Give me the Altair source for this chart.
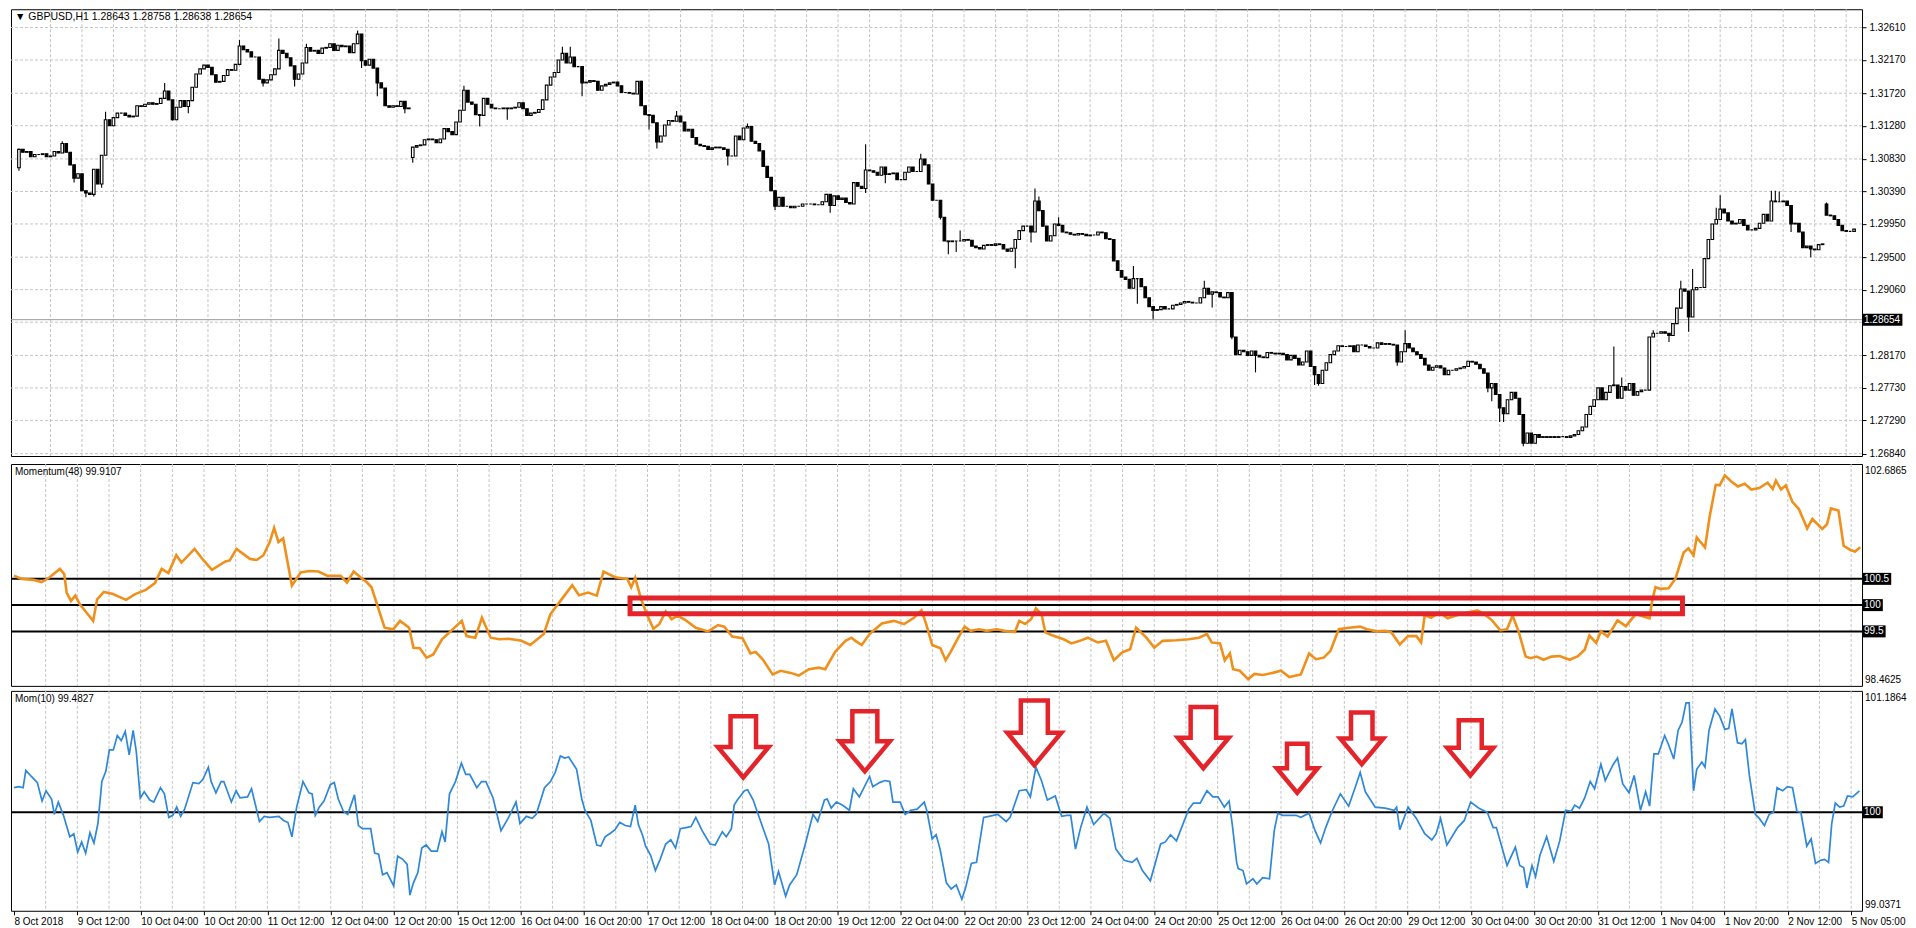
import json
import altair as alt
import pandas as pd

# ---------------- data ----------------
# GBPUSD H1 closes, one per bar (bar 0 = 8 Oct 20:00)
closes = [
    1.3096, 1.3092, 1.3093, 1.3086, 1.3089, 1.3089, 1.3090, 1.3086, 1.3087, 1.3093,
    1.3091, 1.3104, 1.3092, 1.3075, 1.3057, 1.3063, 1.3040, 1.3037, 1.3035, 1.3069,
    1.3049, 1.3088, 1.3136, 1.3128, 1.3139, 1.3145, 1.3145, 1.3142, 1.3140, 1.3141,
    1.3155, 1.3154, 1.3157, 1.3159, 1.3157, 1.3158, 1.3165, 1.3175, 1.3163, 1.3136,
    1.3153, 1.3162, 1.3154, 1.3162, 1.3180, 1.3198, 1.3205, 1.3210, 1.3207, 1.3197,
    1.3187, 1.3188, 1.3196, 1.3204, 1.3203, 1.3211, 1.3236, 1.3231, 1.3228, 1.3221,
    1.3221, 1.3191, 1.3186, 1.3190, 1.3197, 1.3205, 1.3230, 1.3226, 1.3220, 1.3209,
    1.3191, 1.3198, 1.3213, 1.3234, 1.3229, 1.3230, 1.3226, 1.3233, 1.3234, 1.3239,
    1.3230, 1.3237, 1.3235, 1.3236, 1.3227, 1.3239, 1.3252, 1.3216, 1.3210, 1.3218,
    1.3206, 1.3186, 1.3179, 1.3155, 1.3153, 1.3155, 1.3154, 1.3161, 1.3151, 1.3152,
    1.3099, 1.3101, 1.3102, 1.3109, 1.3110, 1.3109, 1.3105, 1.3110, 1.3124, 1.3120,
    1.3116, 1.3133, 1.3149, 1.3176, 1.3160, 1.3157, 1.3143, 1.3142, 1.3165, 1.3157,
    1.3152, 1.3151, 1.3151, 1.3152, 1.3151, 1.3152, 1.3153, 1.3159, 1.3151, 1.3142,
    1.3145, 1.3146, 1.3150, 1.3163, 1.3183, 1.3194, 1.3200, 1.3217, 1.3226, 1.3213,
    1.3221, 1.3208, 1.3208, 1.3186, 1.3187, 1.3189, 1.3188, 1.3176, 1.3182, 1.3184,
    1.3186, 1.3187, 1.3182, 1.3173, 1.3173, 1.3172, 1.3171, 1.3188, 1.3155, 1.3143,
    1.3142, 1.3132, 1.3106, 1.3114, 1.3129, 1.3135, 1.3134, 1.3141, 1.3133, 1.3121,
    1.3123, 1.3112, 1.3103, 1.3101, 1.3100, 1.3096, 1.3098, 1.3099, 1.3098, 1.3096,
    1.3087, 1.3087, 1.3114, 1.3109, 1.3125, 1.3127, 1.3107, 1.3104, 1.3094, 1.3073,
    1.3058, 1.3040, 1.3019, 1.3031, 1.3019, 1.3019, 1.3017, 1.3019, 1.3019, 1.3022,
    1.3022, 1.3022, 1.3021, 1.3021, 1.3025, 1.3035, 1.3020, 1.3033, 1.3028, 1.3030,
    1.3024, 1.3022, 1.3051, 1.3046, 1.3043, 1.3068, 1.3067, 1.3065, 1.3061, 1.3072,
    1.3062, 1.3063, 1.3064, 1.3055, 1.3055, 1.3065, 1.3072, 1.3066, 1.3066, 1.3083,
    1.3075, 1.3049, 1.3027, 1.3027, 1.3004, 1.2972, 1.2971, 1.2972, 1.2972, 1.2972,
    1.2974, 1.2973, 1.2965, 1.2963, 1.2961, 1.2966, 1.2967, 1.2966, 1.2968, 1.2967,
    1.2961, 1.2958, 1.2962, 1.2974, 1.2986, 1.2992, 1.2992, 1.2984, 1.3026, 1.3013,
    1.2992, 1.2972, 1.2979, 1.2995, 1.2993, 1.2984, 1.2983, 1.2981, 1.2980, 1.2982,
    1.2981, 1.2979, 1.2980, 1.2980, 1.2984, 1.2983, 1.2975, 1.2974, 1.2945, 1.2932,
    1.2923, 1.2920, 1.2908, 1.2921, 1.2921, 1.2910, 1.2895, 1.2883, 1.2878, 1.2879,
    1.2883, 1.2880, 1.2880, 1.2885, 1.2886, 1.2888, 1.2890, 1.2889, 1.2888, 1.2888,
    1.2895, 1.2908, 1.2900, 1.2903, 1.2902, 1.2896, 1.2895, 1.2902, 1.2842, 1.2818,
    1.2824, 1.2822, 1.2817, 1.2823, 1.2817, 1.2815, 1.2814, 1.2821, 1.2820, 1.2819,
    1.2820, 1.2818, 1.2811, 1.2817, 1.2813, 1.2804, 1.2808, 1.2823, 1.2802, 1.2791,
    1.2779, 1.2797, 1.2807, 1.2818, 1.2823, 1.2830, 1.2829, 1.2829, 1.2830, 1.2822,
    1.2831, 1.2831, 1.2829, 1.2827, 1.2827, 1.2834, 1.2832, 1.2833, 1.2832, 1.2831,
    1.2808, 1.2822, 1.2833, 1.2827, 1.2822, 1.2818, 1.2813, 1.2804, 1.2797, 1.2801,
    1.2803, 1.2800, 1.2791, 1.2797, 1.2797, 1.2799, 1.2800, 1.2802, 1.2809, 1.2808,
    1.2805, 1.2799, 1.2793, 1.2773, 1.2779, 1.2764, 1.2746, 1.2738, 1.2757, 1.2767,
    1.2759, 1.2737, 1.2698, 1.2712, 1.2698, 1.2710, 1.2706, 1.2707, 1.2706, 1.2707,
    1.2706, 1.2707, 1.2707, 1.2706, 1.2708, 1.2710, 1.2715, 1.2720, 1.2737, 1.2748,
    1.2757, 1.2773, 1.2757, 1.2767, 1.2776, 1.2777, 1.2759, 1.2775, 1.2770, 1.2779,
    1.2763, 1.2768, 1.2770, 1.2770, 1.2842, 1.2847, 1.2847, 1.2849, 1.2847, 1.2844,
    1.2860, 1.2881, 1.2907, 1.2904, 1.2869, 1.2906, 1.2909, 1.2909, 1.2948, 1.2974,
    1.2995, 1.3001, 1.3015, 1.3010, 1.2999, 1.2995, 1.2996, 1.3001, 1.2993, 1.2987,
    1.2987, 1.2989, 1.2996, 1.3008, 1.2999, 1.3026, 1.3025, 1.3025, 1.3026, 1.3020,
    1.2995, 1.2996, 1.2984, 1.2963, 1.2965, 1.2961, 1.2960, 1.2967, 1.2968, 1.3007,
    1.3006, 1.3001, 1.2993, 1.2986, 1.2985, 1.2985, 1.2988,
]
# opens after a gap (otherwise open = previous close)
gap_opens = {0: 1.3071, 100: 1.3085, 459: 1.3022}
# visible wicks: bar -> (high, low)
wicks = {
    0: (1.3097, 1.3067), 11: (1.3107, None), 14: (None, 1.3051), 17: (None, 1.3031),
    19: (None, 1.3032), 21: (None, 1.3044), 22: (1.3147, None), 37: (1.3186, None),
    39: (None, 1.3135), 43: (None, 1.3145), 56: (1.3244, None), 62: (None, 1.3181),
    66: (1.3246, None), 70: (None, 1.3181), 73: (1.3239, None), 86: (1.3257, None),
    87: (None, 1.3206), 91: (None, 1.3168), 98: (None, 1.3145), 100: (None, 1.3078),
    113: (1.3182, None), 117: (None, 1.3127), 124: (None, 1.3136), 138: (1.3235, None),
    140: (1.3235, None), 143: (None, 1.3168), 158: (1.3189, None), 160: (None, 1.3123),
    162: (None, 1.3097), 167: (1.3148, None), 180: (None, 1.3074), 185: (1.3131, None),
    192: (None, 1.3014), 206: (None, 1.3010), 215: (1.3103, 1.3037), 220: (None, 1.3050),
    229: (1.3090, None), 234: (None, 1.3001), 236: (None, 1.2954), 238: (None, 1.2957),
    239: (1.2986, None), 253: (None, 1.2935), 257: (None, 1.2970), 258: (1.3043, None),
    259: (1.3032, None), 264: (1.3004, None), 283: (1.2938, None), 284: (None, 1.2887),
    288: (None, 1.2866), 301: (1.2918, None), 303: (None, 1.2882), 308: (None, 1.2839),
    314: (None, 1.2794), 329: (None, 1.2777), 330: (None, 1.2776), 350: (None, 1.2803),
    352: (1.2851, None), 373: (None, 1.2767), 374: (None, 1.2755), 376: (None, 1.2727),
    377: (None, 1.2727), 382: (None, 1.2694), 405: (1.2829, None), 407: (1.2787, None),
    415: (1.2851, None), 419: (None, 1.2835), 422: (1.2918, None), 424: (None, 1.2849),
    425: (1.2934, None), 431: (1.3017, None), 432: (1.3034, None), 445: (1.3040, None),
    446: (1.3040, None), 447: (1.3039, None), 450: (None, 1.2984), 455: (None, 1.2950),
    459: (1.3024, None),
}
price_ticks = [1.32610, 1.32170, 1.31720, 1.31280, 1.30830, 1.30390, 1.29950,
               1.29500, 1.29060, 1.28620, 1.28170, 1.27730, 1.27290, 1.26840]
price_domain = [1.26808, 1.32857]
bid = 1.28654
header = "\u25BC GBPUSD,H1  1.28643 1.28758 1.28638 1.28654"

# Momentum(48)
m48_bar = [0, 2, 5, 7, 9, 11.6, 12.7, 13.3, 14.4, 15.5, 16.6, 18.3, 20, 21, 22.7, 25, 28.3, 30.6, 33.3, 35.6,
           37.3, 39, 41, 42.3, 45.6, 47.9, 50, 53.4, 54.5, 56.2, 59.6, 61.3, 63, 64.6, 65.7, 66.8, 68, 70.2,
           72.4, 74.6, 76.9, 79.1, 82.5, 84.1, 85.8, 87.5, 89.2, 90.3, 93.6, 95.8, 97.5, 99.8, 100.9, 102.5,
           104.2, 105.9, 108.1, 110.4, 113.1, 114.3, 116.5, 118.2, 120.4, 122.6, 124.9, 128.2, 130.4, 133.8,
           135.5, 138.3, 141, 142.7, 145, 147.2, 148.9, 151.8, 154.9, 155.9, 156.9, 158.4, 160, 161.5, 163,
           164.6, 166.1, 167.6, 169.7, 172.2, 175.3, 177.8, 179.4, 181.4, 184, 186, 187.3, 189.1, 191.6, 193.6,
           196.2, 198.2, 200.8, 203.3, 204.9, 207.4, 210, 211.5, 212.5, 214.1, 216.1, 219.2, 222.2, 224.8,
           227.3, 229.2, 230.4, 231.9, 234, 235.3, 236.5, 238.5, 240.1, 241.6, 243.7, 245.7, 248.2, 250.8,
           252.8, 253.9, 255.4, 256.9, 258.1, 259.5, 260.5, 262, 265.1, 267.1, 269.2, 271.2, 273.7, 275.8,
           277.8, 279.9, 281.9, 283.4, 286, 288, 290.1, 293.6, 296.7, 299.3, 301.3, 302.5, 304.6, 305.8, 307.1,
           307.9, 309.6, 311.7, 313.3, 315.4, 317.9, 320, 322.1, 325, 327.1, 328.8, 330.8, 332.5, 334.6, 337.1,
           340, 341.7, 344.2, 346.3, 347.9, 350, 352.1, 354.2, 355.4, 356.3, 357.9, 360, 362.1, 364.6, 367.1,
           369.6, 371.3, 373.3, 375.4, 377.1, 378.5, 380, 381.8, 383, 384.6, 386.3, 388.3, 390.4, 392.9, 395,
           396.7, 397.9, 399.6, 400.8, 402.5, 405, 407.1, 409.6, 411.7, 413.1, 413.8, 414.6, 415.8, 417.9,
           419.6, 421.7, 422.9, 424.2, 425, 427.1, 428.3, 429.8, 430.8, 432.1, 433.8, 435.4, 437.1, 438.8,
           440.8, 442.9, 444.2, 445, 446.3, 447.5, 449.2, 450.8, 452.9, 454.2, 456.7, 457.9, 458.9, 460.8,
           462.1, 463.8, 465, 466.3]
m48_val = [100.56, 100.50, 100.48, 100.44, 100.53, 100.69, 100.59, 100.24, 100.08, 100.18, 100.02, 99.86, 99.70,
           100.11, 100.25, 100.21, 100.10, 100.21, 100.29, 100.42, 100.69, 100.61, 100.95, 100.81, 101.07, 100.85,
           100.67, 100.83, 100.85, 101.07, 100.88, 100.86, 100.95, 101.20, 101.47, 101.20, 101.27, 100.37, 100.62,
           100.65, 100.64, 100.56, 100.56, 100.43, 100.64, 100.53, 100.43, 100.34, 99.57, 99.54, 99.70, 99.57,
           99.19, 99.18, 99.00, 99.06, 99.35, 99.51, 99.70, 99.41, 99.38, 99.76, 99.38, 99.35, 99.36, 99.32,
           99.24, 99.45, 99.83, 100.11, 100.38, 100.19, 100.24, 100.18, 100.64, 100.53, 100.50, 100.34, 100.52,
           100.11, 99.80, 99.55, 99.64, 99.88, 99.73, 99.80, 99.71, 99.57, 99.50, 99.62, 99.59, 99.40, 99.37,
           99.08, 99.11, 98.97, 98.68, 98.75, 98.71, 98.66, 98.78, 98.81, 98.78, 99.11, 99.32, 99.38, 99.32,
           99.24, 99.45, 99.65, 99.70, 99.64, 99.76, 99.90, 99.64, 99.24, 99.18, 98.95, 99.10, 99.38, 99.59,
           99.51, 99.54, 99.51, 99.54, 99.50, 99.49, 99.70, 99.64, 99.73, 99.94, 99.83, 99.48, 99.43, 99.35,
           99.27, 99.32, 99.38, 99.29, 99.32, 98.95, 99.10, 99.16, 99.57, 99.38, 99.19, 99.32, 99.33, 99.35,
           99.38, 99.45, 99.29, 99.27, 98.95, 99.08, 98.78, 98.75, 98.59, 98.69, 98.67, 98.71, 98.75, 98.63,
           98.68, 99.08, 98.97, 99.00, 99.13, 99.54, 99.57, 99.59, 99.54, 99.50, 99.51, 99.48, 99.25, 99.41,
           99.41, 99.29, 99.81, 99.76, 99.86, 99.75, 99.81, 99.86, 99.90, 99.83, 99.71, 99.52, 99.54, 99.80,
           99.50, 99.02, 98.99, 99.02, 98.96, 99.02, 99.03, 98.96, 99.03, 99.15, 99.42, 99.28, 99.50, 99.40,
           99.71, 99.60, 99.83, 99.78, 99.75, 100.11, 100.34, 100.31, 100.32, 100.50, 101.00, 101.08, 100.95,
           101.29, 101.10, 101.70, 102.29, 102.28, 102.47, 102.35, 102.26, 102.31, 102.20, 102.23, 102.33,
           102.21, 102.37, 102.20, 102.28, 101.96, 101.83, 101.46, 101.64, 101.45, 101.54, 101.84, 101.80,
           101.13, 101.05, 101.02, 101.10]
m48_levels = [100.5, 100.0, 99.5]
m48_range = [98.4625, 102.6865]
m48_title = "Momentum(48) 99.9107"
box_bars = [155.6, 421.4]
box_vals = [99.835, 100.135]

# Mom(10)
m10_bar = [0, 1.3, 2.3, 3, 4.4, 5.9, 7.1, 8.1, 9.5, 10.2, 11.2, 12.5, 14.1, 15.1, 16.1, 17.1, 18.1, 19.2, 20.2,
           21.2, 22.2, 23.2, 24.1, 25.1, 26.1, 27.1, 28.1, 29.1, 30.1, 30.9, 31.9, 32.9, 34.3, 35.3, 37, 38, 39.1,
           40.1, 41.1, 42.1, 43.1, 45.2, 46.7, 47.7, 49.1, 49.8, 51, 52.3, 53, 54.9, 56.1, 57.1, 59, 60, 62, 63.2,
           64.6, 66.9, 68.1, 69.2, 70.2, 71.4, 73, 74.5, 75.3, 76.1, 77.1, 78.3, 79.9, 80.9, 81.9, 83.2, 84.3, 86,
           87, 88, 90.1, 91.1, 92.1, 93.1, 94.2, 95.9, 96.9, 98.2, 99.3, 100, 100.8, 102, 103, 104.1, 105.4, 106.9,
           108.1, 108.9, 110, 111.5, 113, 114.1, 115.1, 116.9, 118.1, 119.2, 121, 123, 124.8, 126.8, 127.8, 129.4,
           130.9, 131.9, 134, 135.5, 136.7, 138, 139.1, 140.1, 142.1, 143.4, 144.2, 145.7, 147.2, 148.2, 149.3,
           150.8, 151.8, 153, 154.4, 155.7, 156.9, 157.7, 158.8, 159.5, 160.8, 162, 163.2, 164.6, 165.9, 167.1,
           168.3, 169.7, 171, 172.2, 173.8, 175.8, 177.1, 178.9, 179.9, 181.2, 181.9, 182.7, 184.5, 185.3, 186.7,
           188.5, 190.6, 192.1, 193.1, 194.9, 195.9, 197.7, 199.8, 201.8, 203, 204.7, 205.4, 206.4, 207.7, 209.2,
           211, 212, 213.5, 216.1, 216.9, 218.6, 220, 221.2, 222, 223.8, 225.1, 226.5, 228.1, 229.9, 230.6, 231.9,
           232.9, 233.9, 235.5, 236.7, 238, 239.4, 240.4, 241.8, 243.1, 244.9, 246.2, 248.5, 250.6, 251.6, 253.9,
           255.7, 256.7, 258.1, 259.5, 261, 263, 264.6, 265.9, 266.9, 268.1, 269.4, 271, 272.7, 275.3, 276.8,
           278.3, 280.4, 282.4, 283.6, 285, 287, 289.6, 290.8, 292.1, 293.6, 296.7, 297.9, 299.6, 301.3, 302.8,
           304.1, 305.7, 306.9, 307.7, 308.8, 309.2, 310.4, 311.3, 312.9, 313.9, 315.4, 317.1, 318.3, 319.2, 320.4,
           322.1, 323.8, 325, 327.1, 328.6, 330, 331.3, 332.9, 335, 337.1, 338.8, 340, 341.3, 343.8, 346.3, 348.6,
           349.2, 350, 352.1, 354.2, 356.3, 358.1, 359.2, 360.3, 361.9, 364.6, 366.3, 367.9, 370, 372.1, 373.6,
           374.4, 377.1, 379.2, 380.3, 381.3, 382.1, 383.4, 384.3, 385.4, 387.1, 388.9, 390.4, 391.9, 393.3, 394.2,
           395.4, 396.7, 398.1, 399.2, 400.8, 401.9, 403.8, 405, 406.3, 407.9, 409.2, 410.8, 412.1, 413.1, 414.2,
           415.3, 416.9, 417.9, 419.2, 420.3, 421.3, 422.3, 423.1, 424.2, 425, 426.3, 427.1, 428.1, 429.6, 430.8,
           432.1, 433.1, 433.9, 435.3, 436.4, 437.3, 438.3, 439.8, 440.8, 442.1, 443.3, 444.4, 445.3, 446.7, 447.9,
           449.2, 450.3, 451.3, 452.8, 453.9, 455, 456.3, 457.3, 458.3, 459.1, 460, 461.1, 462.1, 463.1, 464.4,
           466.1]
m10_val = [100.24, 100.25, 100.24, 100.41, 100.35, 100.29, 100.11, 100.21, 100.13, 99.98, 100.10, 99.97, 99.76,
           99.79, 99.61, 99.71, 99.60, 99.80, 99.70, 99.89, 100.30, 100.40, 100.61, 100.61, 100.75, 100.70, 100.79,
           100.56, 100.80, 100.59, 100.14, 100.20, 100.12, 100.10, 100.24, 100.18, 99.95, 99.97, 100.05, 99.96,
           100.03, 100.29, 100.28, 100.32, 100.44, 100.30, 100.19, 100.30, 100.30, 100.10, 100.21, 100.14, 100.15,
           100.23, 99.91, 99.96, 99.95, 99.96, 99.92, 99.90, 99.76, 100.05, 100.30, 100.19, 100.18, 99.97, 100.05,
           100.11, 100.27, 100.29, 100.13, 100.01, 99.98, 100.17, 99.87, 99.84, 99.84, 99.60, 99.59, 99.39, 99.41,
           99.28, 99.57, 99.54, 99.49, 99.19, 99.30, 99.41, 99.65, 99.68, 99.62, 99.62, 99.81, 99.71, 100.18,
           100.30, 100.48, 100.37, 100.37, 100.24, 100.30, 100.30, 100.14, 99.82, 99.94, 100.10, 99.89, 99.96,
           99.94, 99.98, 100.24, 100.30, 100.39, 100.55, 100.53, 100.54, 100.42, 100.13, 100.02, 99.92, 99.68,
           99.67, 99.76, 99.80, 99.83, 99.90, 99.87, 99.86, 100.07, 99.88, 99.77, 99.67, 99.58, 99.43, 99.54,
           99.69, 99.73, 99.65, 99.84, 99.85, 99.86, 99.95, 99.82, 99.69, 99.68, 99.81, 99.76, 99.84, 100.07,
           100.12, 100.21, 100.22, 100.12, 99.92, 99.69, 99.29, 99.42, 99.18, 99.29, 99.39, 99.68, 99.98, 99.91,
           100.12, 100.13, 100.04, 100.10, 100.07, 100.02, 100.23, 100.15, 100.35, 100.25, 100.29, 100.31, 100.30,
           100.10, 100.10, 99.98, 100.02, 100.03, 100.10, 100.01, 99.74, 99.78, 99.64, 99.31, 99.25, 99.29, 99.15,
           99.27, 99.50, 99.51, 99.95, 99.96, 99.98, 99.91, 99.95, 100.21, 100.22, 100.15, 100.44, 100.31, 100.12,
           100.16, 99.96, 99.97, 99.97, 99.64, 99.85, 100.05, 99.88, 99.99, 99.94, 99.64, 99.53, 99.51, 99.55,
           99.43, 99.33, 99.69, 99.71, 99.78, 99.72, 100.03, 100.09, 100.09, 100.21, 100.15, 100.15, 100.05,
           100.11, 99.88, 99.51, 99.45, 99.43, 99.30, 99.35, 99.30, 99.36, 99.35, 99.82, 99.99, 99.97, 99.97,
           99.97, 99.95, 99.99, 99.82, 99.70, 99.85, 100.01, 100.18, 100.06, 100.25, 100.39, 100.20, 100.05,
           100.04, 100.02, 100.05, 99.83, 100.05, 99.94, 99.79, 99.73, 99.79, 99.94, 99.68, 99.85, 99.92, 100.10,
           100.04, 100.00, 99.85, 99.85, 99.48, 99.66, 99.48, 99.46, 99.26, 99.48, 99.37, 99.58, 99.76, 99.52,
           99.72, 100.02, 100.01, 100.07, 100.04, 100.14, 100.30, 100.23, 100.47, 100.31, 100.46, 100.53, 100.28,
           100.19, 100.36, 100.02, 100.20, 100.06, 100.57, 100.57, 100.75, 100.66, 100.52, 100.80, 100.88, 101.07,
           101.07, 100.21, 100.42, 100.49, 100.44, 100.80, 101.01, 100.94, 100.81, 100.82, 101.01, 100.68, 100.67,
           100.71, 100.36, 99.98, 99.94, 99.87, 99.98, 100.00, 100.24, 100.21, 100.25, 100.24, 100.01, 100.00,
           99.67, 99.74, 99.50, 99.53, 99.54, 99.51, 99.89, 100.09, 100.05, 100.06, 100.16, 100.15, 100.21]
m10_level = 100.0
m10_range = [99.0371, 101.1864]
m10_title = "Mom(10) 99.4827"
arrow_bar = [184.2, 214.9, 257.7, 300.4, 324.1, 340.4, 367.8]
arrow_val = [100.34, 100.40, 100.46, 100.43, 100.19, 100.47, 100.36]
arrow_width = [51, 50, 54, 51, 41, 43, 46]

x_labels = ["8 Oct 2018", "9 Oct 12:00", "10 Oct 04:00", "10 Oct 20:00", "11 Oct 12:00", "12 Oct 04:00",
            "12 Oct 20:00", "15 Oct 12:00", "16 Oct 04:00", "16 Oct 20:00", "17 Oct 12:00", "18 Oct 04:00",
            "18 Oct 20:00", "19 Oct 12:00", "22 Oct 04:00", "22 Oct 20:00", "23 Oct 12:00", "24 Oct 04:00",
            "24 Oct 20:00", "25 Oct 12:00", "26 Oct 04:00", "26 Oct 20:00", "29 Oct 12:00", "30 Oct 04:00",
            "30 Oct 20:00", "31 Oct 12:00", "1 Nov 04:00", "1 Nov 20:00", "2 Nov 12:00", "5 Nov 05:00"]
LABEL_STEP = 16
GRID_STEP = 8

# ---------------- styling ----------------
W = 1852
H_PRICE, H_M48, H_M10 = 447, 222, 220
FONT = "Liberation Sans"
FS = 10
GRID = "#c4c4c4"
ORANGE = "#f0901c"
BLUE = "#2f87d8"
RED = "#e3242b"
ARROW = "M0,0L-1,-1.2L-0.5,-1.2L-0.5,-2.4L0.5,-2.4L0.5,-1.2L1,-1.2Z"

n = len(closes)
xscale = alt.Scale(domain=[-0.75, n - 0.25], nice=False, zero=False)


def xenc(field="bar", axis=None):
    return alt.X(f"{field}:Q", scale=xscale, axis=axis, title=None)


def yenc(field, scale, axis=None):
    return alt.Y(f"{field}:Q", scale=scale, axis=axis, title=None)


grid_df = pd.DataFrame({"bar": list(range(GRID_STEP, n - 1, GRID_STEP))})


def vgrid(axis=None):
    return alt.Chart(grid_df).mark_rule(color=GRID, strokeDash=[3, 2], strokeWidth=1).encode(x=xenc(axis=axis))


def text_w(s):
    return sum(2.8 if ch in ".," else 5.6 for ch in s)


def level_box(value, label, yscale, axis=None):
    d = pd.DataFrame({"v": [value], "t": [label]})
    rect = alt.Chart(d).mark_rect(color="black", yOffset=-6, y2Offset=6).encode(
        x=alt.value(W + 1), x2=alt.value(W + 4 + text_w(label)),
        y=yenc("v", yscale, axis), y2="v:Q")
    txt = alt.Chart(d).mark_text(color="white", align="left", baseline="middle", font=FONT, fontSize=FS).encode(
        x=alt.value(W + 2), y=yenc("v", yscale, axis), text="t:N")
    return [rect, txt]


def corner_text(value, label, yscale, top):
    d = pd.DataFrame({"v": [value], "t": [label]})
    return alt.Chart(d).mark_text(color="black", align="left", baseline="top" if top else "bottom",
                                  dy=2 if top else -1, font=FONT, fontSize=FS).encode(
        x=alt.value(W + 3), y=yenc("v", yscale), text="t:N")


def title_text(label, size=FS):
    return alt.Chart(pd.DataFrame({"t": [label]})).mark_text(
        color="black", align="left", baseline="top", font=FONT, fontSize=size).encode(
        x=alt.value(4), y=alt.value(3), text="t:N")


# ---------------- price panel ----------------
opens, highs, lows = [], [], []
for i, c in enumerate(closes):
    o = gap_opens.get(i, closes[i - 1] if i > 0 else c)
    hi, lo = wicks.get(i, (None, None))
    opens.append(o)
    highs.append(max(o, c, hi if hi is not None else c))
    lows.append(min(o, c, lo if lo is not None else c))
candles = pd.DataFrame({"bar": list(range(n)), "open": opens, "close": closes, "high": highs, "low": lows})
candles["bull"] = candles["close"] >= candles["open"]

pscale = alt.Scale(domain=price_domain, nice=False, zero=False)
label_ticks = [t for t in price_ticks if abs(t - bid) > 0.0006]
p_axis = alt.Axis(orient="right", values=label_ticks, format=".5f", grid=False, domain=False,
                  ticks=True, tickColor="black", tickSize=4, labelFont=FONT, labelFontSize=FS,
                  labelColor="black", labelPadding=3, title=None)

hgrid = alt.Chart(pd.DataFrame({"p": price_ticks})).mark_rule(
    color=GRID, strokeDash=[3, 2], strokeWidth=1).encode(y=yenc("p", pscale, p_axis))
bid_line = alt.Chart(pd.DataFrame({"p": [bid]})).mark_rule(color="#9c9c9c", strokeWidth=1).encode(
    y=yenc("p", pscale, p_axis))
wick_layer = alt.Chart(candles).mark_rule(color="black", strokeWidth=1.1).encode(
    x=xenc(), y=yenc("low", pscale, p_axis), y2="high:Q")
body_layer = alt.Chart(candles).mark_bar(size=2.6, stroke="black", strokeWidth=1.1).encode(
    x=xenc(), y=yenc("open", pscale, p_axis), y2="close:Q",
    fill=alt.condition("datum.bull", alt.value("white"), alt.value("black")))

price_panel = alt.layer(
    vgrid(), hgrid, bid_line, wick_layer, body_layer, title_text(header, 10.5),
    *level_box(bid, f"{bid:.5f}", pscale, p_axis),
).properties(width=W, height=H_PRICE)

# ---------------- Momentum(48) panel ----------------
m48scale = alt.Scale(domain=m48_range, nice=False, zero=False)
m48_df = pd.DataFrame({"bar": m48_bar, "v": m48_val})
lv48 = alt.Chart(pd.DataFrame({"v": m48_levels})).mark_rule(color="black", strokeWidth=2).encode(
    y=yenc("v", m48scale))
line48 = alt.Chart(m48_df).mark_line(color=ORANGE, strokeWidth=2.6).encode(
    x=xenc(), y=yenc("v", m48scale))
box_df = pd.DataFrame({"x1": [box_bars[0]], "x2": [box_bars[1]], "y1": [box_vals[0]], "y2": [box_vals[1]]})
box48 = alt.Chart(box_df).mark_rect(fillOpacity=0, stroke=RED, strokeWidth=5).encode(
    x=xenc("x1"), x2="x2:Q", y=yenc("y1", m48scale), y2="y2:Q")
m48_boxes = []
for lv in m48_levels:
    m48_boxes += level_box(lv, f"{lv:g}", m48scale)
m48_panel = alt.layer(
    vgrid(), lv48, line48, box48, title_text(m48_title),
    corner_text(m48_range[1], f"{m48_range[1]:.4f}", m48scale, True),
    corner_text(m48_range[0], f"{m48_range[0]:.4f}", m48scale, False),
    *m48_boxes,
).properties(width=W, height=H_M48)

# ---------------- Mom(10) panel ----------------
m10scale = alt.Scale(domain=m10_range, nice=False, zero=False)
m10_df = pd.DataFrame({"bar": m10_bar, "v": m10_val})
x_axis = alt.Axis(
    values=[LABEL_STEP * k for k in range(len(x_labels))],
    labelExpr=f"{json.dumps(x_labels)}[round(datum.value / {LABEL_STEP})]",
    orient="bottom", grid=False, domain=False, ticks=True, tickColor="black", tickSize=4,
    labelAlign="left", labelBaseline="top", labelPadding=2, labelFont=FONT, labelFontSize=FS,
    labelColor="black", labelOverlap=False, labelFlush=False, labelBound=False, title=None)
lv10 = alt.Chart(pd.DataFrame({"v": [m10_level]})).mark_rule(color="black", strokeWidth=2).encode(
    y=yenc("v", m10scale))
line10 = alt.Chart(m10_df).mark_line(color=BLUE, strokeWidth=1.7).encode(
    x=xenc(axis=x_axis), y=yenc("v", m10scale))
arrow_df = pd.DataFrame({"bar": arrow_bar, "v": arrow_val, "s": [w * w for w in arrow_width]})
arrows = alt.Chart(arrow_df).mark_point(shape=ARROW, filled=False, stroke=RED, strokeWidth=4.5, opacity=1,
                                        strokeJoin="miter").encode(
    x=xenc(axis=x_axis), y=yenc("v", m10scale), size=alt.Size("s:Q", scale=None, legend=None))
m10_panel = alt.layer(
    vgrid(x_axis), lv10, line10, arrows, title_text(m10_title),
    corner_text(m10_range[1], f"{m10_range[1]:.4f}", m10scale, True),
    corner_text(m10_range[0], f"{m10_range[0]:.4f}", m10scale, False),
    *level_box(m10_level, f"{m10_level:g}", m10scale),
).properties(width=W, height=H_M10)

chart = alt.vconcat(price_panel, m48_panel, m10_panel, spacing=3).properties(
    padding={"left": 0, "top": 0, "right": 0, "bottom": 0}, background="white"
).configure_view(stroke="black", strokeWidth=1)

chart.save("out.html", embed_options={"renderer": "svg", "actions": False})
